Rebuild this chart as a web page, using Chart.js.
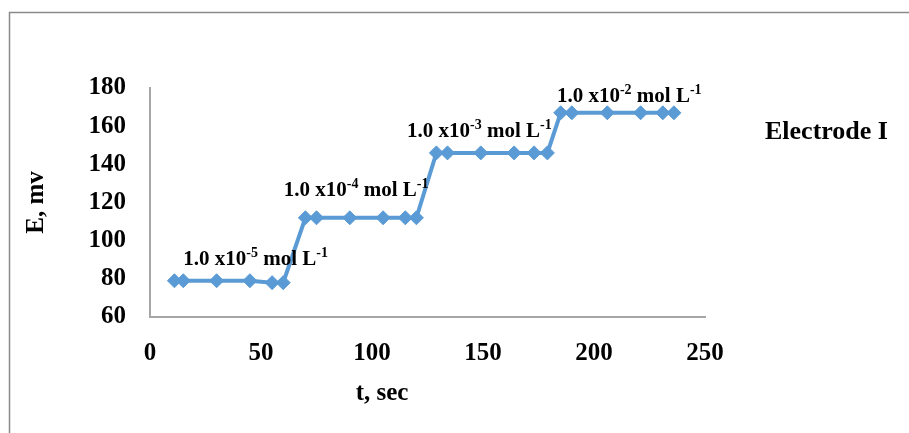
<!DOCTYPE html>
<html>
<head>
<meta charset="utf-8">
<script src="https://cdn.jsdelivr.net/npm/chart.js@4.4.1/dist/chart.umd.min.js"></script>
<style>
    html, body { margin: 0; padding: 0; background: #fff; }
    .chart-container { position: relative; width: 909px; height: 433px; }
</style>
</head>
<body>
<div class="chart-container">
    <canvas id="potentialChart"></canvas>
</div>
<script>
// time (s) and potential (mV)
const timeSec = [11, 15, 30, 45, 55, 60,
                 70, 75, 90, 105, 115, 120,
                 129, 134, 149, 164, 173, 179,
                 185, 190, 206, 221, 231, 236];
const potentialMv = [79, 79, 79, 79, 78, 78,
                     112, 112, 112, 112, 112, 112,
                     146, 146, 146, 146, 146, 146,
                     167, 167, 167, 167, 167, 167];
const concExponents = ['-5', '-4', '-3', '-2'];
const seriesName = 'Electrode I';
const xTicks = [0, 50, 100, 150, 200, 250];
const yTicks = [60, 80, 100, 120, 140, 160, 180];

const serif = '"Liberation Serif", "Times New Roman", serif';
const blue = '#5B9BD5';

// where each concentration label sits, in data units (left edge, baseline)
const labelAnchors = [
    { t: 15, e: 87.3 },
    { t: 60.3, e: 123.4 },
    { t: 115.8, e: 154.3 },
    { t: 183.3, e: 172.7 },
];

const extrasPlugin = {
    id: 'extras',
    beforeDraw(chart) {
        const ctx = chart.ctx;
        ctx.save();
        ctx.fillStyle = '#fff';
        ctx.fillRect(0, 0, chart.width, chart.height);
        // outer frame (only top and left edges are visible)
        ctx.strokeStyle = '#8a8a8a';
        ctx.lineWidth = 1.5;
        ctx.beginPath();
        ctx.moveTo(9.5, chart.height);
        ctx.lineTo(9.5, 12.5);
        ctx.lineTo(chart.width, 12.5);
        ctx.stroke();
        ctx.restore();
    },
    afterDraw(chart) {
        const ctx = chart.ctx;
        const xs = chart.scales.x;
        const ys = chart.scales.y;
        ctx.save();
        ctx.fillStyle = '#000';
        ctx.textBaseline = 'alphabetic';
        ctx.textAlign = 'left';

        const big = 'bold 21px ' + serif;
        const small = 'bold 14px ' + serif;
        concExponents.forEach((exp, i) => {
            let x = xs.getPixelForValue(labelAnchors[i].t);
            const y = ys.getPixelForValue(labelAnchors[i].e);
            const parts = [
                [big, '1.0 x10', 0],
                [small, exp, -8],
                [big, ' mol L', 0],
                [small, '-1', -8],
            ];
            parts.forEach(([font, text, dy]) => {
                ctx.font = font;
                ctx.fillText(text, x, y + dy);
                x += ctx.measureText(text).width;
            });
        });

        // series name where the legend would be
        ctx.font = 'bold 26px ' + serif;
        ctx.fillText(seriesName, 765, 139);

        // x axis title
        ctx.font = 'bold 25px ' + serif;
        ctx.textAlign = 'center';
        ctx.fillText('t, sec', 382, 400);
        ctx.restore();
    }
};

const ctx = document.getElementById('potentialChart');
new Chart(ctx, {
    type: 'line',
    data: {
        datasets: [{
            label: seriesName,
            data: timeSec.map((t, i) => ({ x: t, y: potentialMv[i] })),
            borderColor: blue,
            backgroundColor: blue,
            borderWidth: 4,
            pointStyle: 'rectRot',
            pointRadius: 7,
            pointBorderWidth: 1,
            tension: 0,
            fill: false,
        }],
    },
    options: {
        responsive: true,
        maintainAspectRatio: false,
        animation: false,
        layout: { padding: { left: 10, top: 88, right: 204, bottom: 0 } },
        plugins: {
            legend: { display: false },
            tooltip: { enabled: false },
        },
        scales: {
            x: {
                type: 'linear',
                min: 0,
                max: 250,
                afterBuildTicks: (axis) => { axis.ticks = xTicks.map(v => ({ value: v })); },
                afterFit: (axis) => { axis.height = 116; },
                grid: { display: false, drawTicks: false },
                border: { display: true, color: '#a6a6a6', width: 2 },
                ticks: {
                    color: '#000',
                    padding: 22,
                    font: { family: serif, size: 25, weight: 'bold' },
                },
            },
            y: {
                min: 60,
                max: 180,
                afterBuildTicks: (axis) => { axis.ticks = yTicks.map(v => ({ value: v })); },
                afterFit: (axis) => { axis.width = 140; },
                grid: { display: false, drawTicks: false },
                border: { display: true, color: '#a6a6a6', width: 2 },
                ticks: {
                    color: '#000',
                    padding: 24,
                    font: { family: serif, size: 25, weight: 'bold' },
                },
                title: {
                    display: true,
                    text: 'E, mv',
                    color: '#000',
                    padding: { top: 12, bottom: 0 },
                    font: { family: serif, size: 25, weight: 'bold' },
                },
            },
        },
    },
    plugins: [extrasPlugin],
});
</script>
</body>
</html>
